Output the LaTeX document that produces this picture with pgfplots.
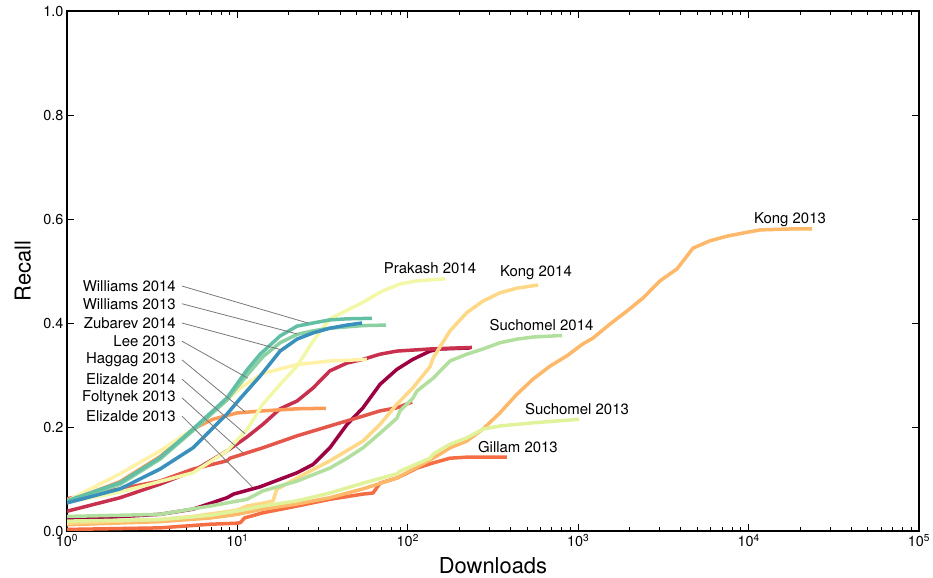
\documentclass[border=0pt]{standalone}
\usepackage{fontspec}
\setmainfont{TeX Gyre Heros}
\usepackage{pgfplots}
\pgfplotsset{compat=1.18}
\definecolor{cEliz13}{HTML}{9E0142}
\definecolor{cEliz14}{HTML}{C8304E}
\definecolor{cFolt13}{HTML}{E4554A}
\definecolor{cGill13}{HTML}{F46D43}
\definecolor{cHagg13}{HTML}{FC9A58}
\definecolor{cKong13}{HTML}{FDB869}
\definecolor{cKong14}{HTML}{FED886}
\definecolor{cLee13}{HTML}{FFF2A6}
\definecolor{cPrak14}{HTML}{F2F8A8}
\definecolor{cSuch13}{HTML}{E0F29A}
\definecolor{cSuch14}{HTML}{B2DF9E}
\definecolor{cWill13}{HTML}{8BD0A2}
\definecolor{cWill14}{HTML}{62BFA6}
\definecolor{cZuba14}{HTML}{3A90BD}
\begin{document}
\begin{tikzpicture}
\path[use as bounding box] (0,0) rectangle (933bp,578bp);
\begin{axis}[
  at={(67bp,47bp)}, anchor=south west,
  scale only axis, width=852bp, height=520bp,
  xmode=log, xmin=1, xmax=100000, ymin=0, ymax=1,
  axis line style={line width=1.6bp},
  tick align=inside,
  major tick length=7bp, minor tick length=4bp,
  every tick/.style={black, line width=0.7bp},
  xtick={1,10,100,1000,10000,100000},
  minor xtick={2,3,4,5,6,7,8,9,20,30,40,50,60,70,80,90,200,300,400,500,600,700,800,900,2000,3000,4000,5000,6000,7000,8000,9000,20000,30000,40000,50000,60000,70000,80000,90000},
  xticklabels={10\textsuperscript{0},10\textsuperscript{1},10\textsuperscript{2},10\textsuperscript{3},10\textsuperscript{4},10\textsuperscript{5}},
  ytick={0,0.2,0.4,0.6,0.8,1},
  yticklabels={0.0,0.2,0.4,0.6,0.8,1.0},
  tick label style={font=\fontsize{14.5}{16}\selectfont},
  xlabel={Downloads}, ylabel={Recall},
  label style={font=\fontsize{22}{24}\selectfont},
  xlabel style={at={(axis description cs:0.5,-0.067)}, anchor=center},
  ylabel style={at={(axis description cs:-0.052,0.5)}, anchor=center},
  no markers,
  clip mode=individual,
  every axis plot/.append style={line width=3.5bp, line join=round, line cap=butt},
]
% Elizalde 2013
\addplot[cEliz13] coordinates {(1,0.022) (3.51,0.032) (5.49,0.042) (8.69,0.064) (9.5,0.071) (13.6,0.085) (22.4,0.112) (27.8,0.128) (34.9,0.16) (44,0.205) (54.6,0.237) (68.7,0.282) (86.4,0.311) (107,0.33) (135,0.346) (155,0.35) (232,0.352)};
% Elizalde 2014
\addplot[cEliz14] coordinates {(1,0.038) (2.05,0.064) (3.51,0.09) (5.49,0.115) (8.69,0.154) (11.4,0.181) (14.1,0.205) (17.8,0.235) (22.4,0.25) (27.8,0.275) (34.9,0.308) (44,0.323) (54.6,0.33) (68.7,0.34) (86.4,0.346) (135,0.35) (238,0.353)};
% Foltynek 2013
\addplot[cFolt13] coordinates {(1,0.062) (2.05,0.081) (3.51,0.096) (5.49,0.119) (8.69,0.135) (9.05,0.14) (14.1,0.16) (22.4,0.183) (34.9,0.202) (54.6,0.221) (68.7,0.231) (86.4,0.237) (106,0.248)};
% Gillam 2013
\addplot[cGill13] coordinates {(1,0.003) (3.51,0.006) (6.91,0.013) (9.95,0.015) (10.4,0.016) (11.0,0.025) (14.1,0.035) (22.4,0.048) (34.9,0.061) (54.6,0.071) (62.5,0.073) (68.7,0.092) (86.4,0.102) (100,0.112) (113,0.121) (141,0.131) (177,0.14) (222,0.142) (382,0.142)};
% Haggag 2013
\addplot[cHagg13] coordinates {(1,0.056) (2.05,0.095) (3.51,0.143) (5.49,0.196) (7.19,0.215) (9.95,0.227) (14.1,0.231) (22.4,0.235) (33.1,0.236)};
% Kong 2013
\addplot[cKong13] coordinates {(1,0.012) (3.51,0.018) (6.91,0.025) (9.05,0.03) (9.95,0.032) (14.1,0.042) (22.4,0.052) (34.9,0.064) (54.6,0.081) (86.4,0.102) (141,0.14) (177,0.16) (222,0.173) (276,0.196) (347,0.227) (437,0.263) (543,0.292) (683,0.317) (860,0.337) (1067,0.36) (1222,0.371) (1537,0.398) (1933,0.423) (2400,0.448) (3020,0.481) (3800,0.504) (4720,0.544) (5930,0.558) (7470,0.567) (9270,0.573) (11670,0.579) (18240,0.581) (23560,0.581)};
% Kong 2014
\addplot[cKong14] coordinates {(1,0.015) (3.51,0.022) (5.49,0.028) (9.95,0.04) (11.4,0.048) (14.9,0.055) (16.2,0.058) (17.0,0.08) (22.4,0.102) (34.9,0.135) (54.6,0.173) (68.7,0.205) (86.4,0.244) (107,0.275) (135,0.316) (141,0.333) (177,0.385) (222,0.42) (276,0.442) (347,0.458) (437,0.467) (581,0.473)};
% Lee 2013
\addplot[cLee13] coordinates {(1,0.058) (2.05,0.11) (3.51,0.154) (5.49,0.196) (8.69,0.252) (10.4,0.275) (14.1,0.303) (22.4,0.32) (34.9,0.327) (57.6,0.33)};
% Prakash 2014
\addplot[cPrak14] coordinates {(1,0.055) (2.05,0.075) (3.51,0.095) (5.49,0.112) (8.69,0.154) (11.4,0.195) (14.1,0.244) (17.8,0.282) (22.4,0.317) (27.8,0.365) (34.9,0.408) (54.6,0.44) (71.5,0.462) (90,0.475) (113,0.481) (165,0.485)};
% Suchomel 2013
\addplot[cSuch13] coordinates {(1,0.019) (3.51,0.022) (6.91,0.03) (11.4,0.042) (14.1,0.048) (22.4,0.058) (34.9,0.073) (54.6,0.092) (86.4,0.11) (90,0.115) (135,0.14) (141,0.148) (177,0.167) (222,0.179) (276,0.196) (347,0.202) (543,0.208) (860,0.213) (1011,0.215)};
% Suchomel 2014
\addplot[cSuch14] coordinates {(1,0.028) (3.51,0.032) (6.91,0.048) (11.4,0.061) (14.1,0.077) (22.4,0.096) (34.9,0.121) (44,0.14) (54.6,0.16) (68.7,0.188) (86.4,0.217) (90,0.231) (107,0.255) (113,0.269) (141,0.294) (177,0.327) (222,0.34) (276,0.35) (347,0.362) (437,0.369) (543,0.373) (804,0.376)};
% Williams 2013
\addplot[cWill13] coordinates {(1,0.055) (2.05,0.09) (3.51,0.138) (5.49,0.193) (8.69,0.252) (11.4,0.30) (14.1,0.335) (17.8,0.362) (22.4,0.378) (27.8,0.385) (34.9,0.39) (54.6,0.395) (74.5,0.396)};
% Williams 2014
\addplot[cWill14] coordinates {(1,0.058) (2.05,0.093) (3.51,0.141) (5.49,0.196) (8.69,0.256) (11.4,0.31) (13.6,0.34) (17.8,0.375) (22.4,0.394) (27.8,0.40) (34.9,0.406) (44,0.408) (61.6,0.409)};
% Zubarev 2014
\addplot[cZuba14] coordinates {(1,0.054) (2.05,0.081) (3.51,0.119) (5.49,0.16) (8.69,0.225) (10.4,0.255) (13.6,0.298) (17.8,0.346) (22.4,0.369) (27.8,0.381) (34.9,0.39) (44,0.396) (53.9,0.40)};

% right labels
\begin{scope}[every node/.style={font=\fontsize{15}{17}\selectfont, inner sep=0pt}]
\node[anchor=center] at (axis cs:17500,0.598) {Kong 2013};
\node[anchor=center] at (axis cs:565,0.496) {Kong 2014};
\node[anchor=center] at (axis cs:135,0.506) {Prakash 2014};
\node[anchor=center] at (axis cs:609,0.396) {Suchomel 2014};
\node[anchor=center] at (axis cs:984,0.235) {Suchomel 2013};
\node[anchor=center] at (axis cs:443,0.162) {Gillam 2013};
% left labels
\node[anchor=east] at (axis cs:4.36,0.471) {Williams 2014};
\node[anchor=east] at (axis cs:4.36,0.437) {Williams 2013};
\node[anchor=east] at (axis cs:4.36,0.400) {Zubarev 2014};
\node[anchor=east] at (axis cs:4.36,0.365) {Lee 2013};
\node[anchor=east] at (axis cs:4.36,0.329) {Haggag 2013};
\node[anchor=east] at (axis cs:4.36,0.292) {Elizalde 2014};
\node[anchor=east] at (axis cs:4.36,0.256) {Foltynek 2013};
\node[anchor=east] at (axis cs:4.36,0.221) {Elizalde 2013};
\end{scope}
\begin{scope}[color={rgb,255:red,120;green,120;blue,120}, line width=0.8bp]
\draw (axis cs:4.73,0.471) -- (axis cs:25.9,0.400);
\draw (axis cs:4.73,0.437) -- (axis cs:22.4,0.379);
\draw (axis cs:4.73,0.400) -- (axis cs:18.3,0.348);
\draw (axis cs:4.73,0.365) -- (axis cs:11.5,0.294);
\draw (axis cs:4.73,0.329) -- (axis cs:11.1,0.229);
\draw (axis cs:4.73,0.292) -- (axis cs:11.1,0.187);
\draw (axis cs:4.73,0.256) -- (axis cs:10.8,0.150);
\draw (axis cs:4.73,0.221) -- (axis cs:12.2,0.085);
\end{scope}
\end{axis}
\end{tikzpicture}
\end{document}
